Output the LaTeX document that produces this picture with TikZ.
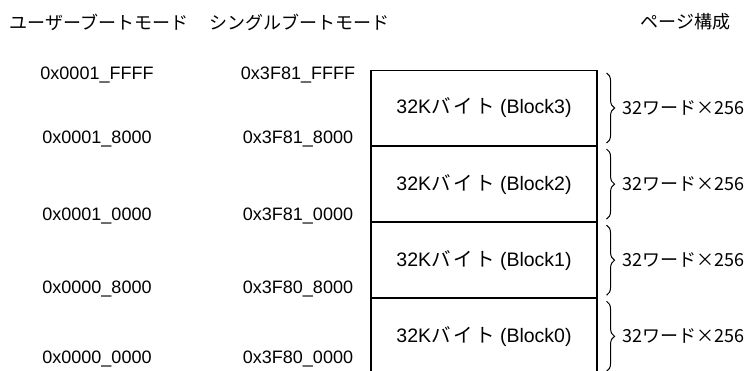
\documentclass[tikz,border=0pt]{standalone}
\usepackage{fontspec}
\setmainfont{Liberation Sans}
\newfontfamily\jpfont{Noto Sans CJK JP}
\usetikzlibrary{decorations.pathreplacing,positioning}
\newcommand{\kbyte}{32K{\jpfont バ\kern2.5ptイ\kern2.5ptト}}
\tikzset{
  blk/.style={draw, line width=1.1pt, minimum width=226pt, minimum height=75pt, inner sep=0pt, font=\fontsize{19.5}{22}\selectfont},
  addr/.style={font=\fontsize{18}{21}\selectfont},
  hdr/.style={anchor=west, font=\jpfont\fontsize{18}{21}\selectfont},
  wrd/.style={anchor=west, font=\jpfont\fontsize{18}{21}\selectfont},
  brc/.style={decorate, decoration={brace, amplitude=8pt}, line width=1pt},
}
\begin{document}
\begin{tikzpicture}[x=1pt, y=-1pt]
\clip (0,0) rectangle (748,370);
% headings
\node[hdr] (user) at (6,22) {ユーザーブートモード};
\node[hdr] (single) at (206,22) {シングルブートモード};
\node[hdr] (page) at (637,22) {ページ構成};
% address columns
\node[addr] (u4) at (97,75)  {0x0001\_FFFF};
\node[addr] (u3) at (97,139) {0x0001\_8000};
\node[addr] (u2) at (97,216) {0x0001\_0000};
\node[addr] (u1) at (97,289) {0x0000\_8000};
\node[addr] (u0) at (97,359) {0x0000\_0000};
\node[addr] (s4) at (298,75)  {0x3F81\_FFFF};
\node[addr] (s3) at (298,139) {0x3F81\_8000};
\node[addr] (s2) at (298,216) {0x3F81\_0000};
\node[addr] (s1) at (298,289) {0x3F80\_8000};
\node[addr] (s0) at (298,359) {0x3F80\_0000};
% memory blocks
\node[blk] (b3) at (484,108) {\kbyte{} (Block3)};
\node[blk, below=0pt of b3] (b2) {\kbyte{} (Block2)};
\node[blk, below=0pt of b2] (b1) {\kbyte{} (Block1)};
\node[blk, below=0pt of b1] (b0) {\kbyte{} (Block0)};
% page braces
\foreach \b in {b3,b2,b1,b0}{
  \draw[brc] ([xshift=9pt,yshift=-3pt]\b.north east) -- ([xshift=9pt,yshift=3pt]\b.south east)
    node[midway, right=12pt, wrd] (w\b) {32ワード×256};
}
\end{tikzpicture}
\end{document}
